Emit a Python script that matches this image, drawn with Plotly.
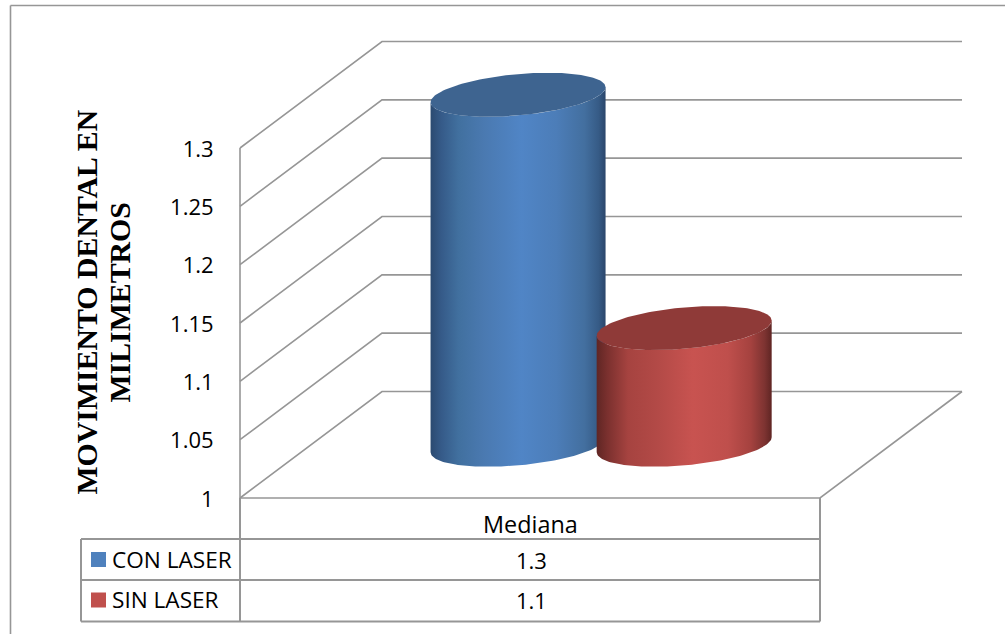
import numpy as np
import plotly.graph_objects as go

# Chart data
category = "Mediana"
series_names = ["CON LASER", "SIN LASER"]
series_values = [1.3, 1.1]
tick_values = [1, 1.05, 1.1, 1.15, 1.2, 1.25, 1.3]
tick_labels = ["1", "1.05", "1.1", "1.15", "1.2", "1.25", "1.3"]
title_lines = ["MOVIMIENTO DENTAL EN", "MILIMETROS"]

W, H = 1005, 634
GRID = "#969696"
LABEL_FONT = "Open Sans"
LABEL_SIZE = 22

# Axis scales: the front floor edge spans x 0..1, the value axis is linear.
X_PX = 580.0
Y_PX = 350.0 / 0.3
FRONT_X, FRONT_Y = 240.0, 498.0
x_range = [-FRONT_X / X_PX, (W - FRONT_X) / X_PX]
y_range = [1 - (H - FRONT_Y) / Y_PX, 1 + FRONT_Y / Y_PX]

# Oblique depth offset of the 3D box, in axis units.
DEPTH_X = 142.0 / X_PX
DEPTH_Y = 106.5 / Y_PX

# Cylinder shape in axis units.
BAR_CENTERS = [0.357, 0.6434]
BAR_RX = 87.5 / X_PX
BAR_RY = 20.7 / Y_PX
BAR_TILT = 7.5 / Y_PX

BAR_STYLES = [
    dict(
        top="#3e6490",
        stops=[(0, "#2b4a70"), (0.06, "#355a88"), (0.16, "#41709f"), (0.3, "#4a79b0"),
               (0.52, "#5085c6"), (0.72, "#4c7db8"), (0.88, "#436f9f"), (0.96, "#365b86"), (1, "#2b466b")],
    ),
    dict(
        top="#8f3a38",
        stops=[(0, "#5f2624"), (0.06, "#7a302e"), (0.18, "#a64340"), (0.35, "#b34a47"),
               (0.55, "#c85350"), (0.75, "#bf4f4c"), (0.88, "#a5423f"), (0.96, "#7d3331"), (1, "#5f2523")],
    ),
]
SWATCHES = ["#4f81bd", "#c0504d"]


def px_x(px):
    return px / W


def px_y(px):
    return 1 - px / H


def ellipse(cx, cy, t):
    return cx + BAR_RX * np.cos(t), cy + BAR_RY * np.sin(t) + BAR_TILT * np.cos(t)


fig = go.Figure()

# Walls and floor gridlines of the 3D box.
for v in tick_values:
    fig.add_trace(go.Scatter(
        x=[0, DEPTH_X, 1 + DEPTH_X],
        y=[v, v + DEPTH_Y, v + DEPTH_Y],
        mode="lines", line=dict(color=GRID, width=1.6),
        hoverinfo="skip", showlegend=False,
    ))
fig.add_trace(go.Scatter(
    x=[0, 0, None, 0, 1, 1 + DEPTH_X],
    y=[tick_values[0], tick_values[-1], None, tick_values[0], tick_values[0], tick_values[0] + DEPTH_Y],
    mode="lines", line=dict(color=GRID, width=1.6),
    hoverinfo="skip", showlegend=False,
))

# Cylinders, drawn from the series values.
for name, value, center, style in zip(series_names, series_values, BAR_CENTERS, BAR_STYLES):
    cx = center + DEPTH_X / 2
    base = tick_values[0] + DEPTH_Y / 2
    top = value + DEPTH_Y / 2
    lower = np.linspace(-np.pi, 0, 90)  # screen-lower half runs through negative sine
    bx, by = ellipse(cx, base, lower)
    tx, ty = ellipse(cx, top, lower[::-1])
    fig.add_trace(go.Scatter(
        x=np.concatenate([bx, tx]), y=np.concatenate([by, ty]),
        mode="lines", line=dict(width=0), fill="toself",
        fillgradient=dict(type="horizontal", colorscale=[list(s) for s in style["stops"]],
                          start=cx - BAR_RX, stop=cx + BAR_RX),
        name=name, showlegend=False,
    ))
    ex, ey = ellipse(cx, top, np.linspace(0, 2 * np.pi, 181))
    fig.add_trace(go.Scatter(
        x=ex, y=ey, mode="lines", line=dict(width=0), fill="toself",
        fillcolor=style["top"], name=name, showlegend=False,
    ))

shapes = []


def rule(x0, y0, x1, y1, color=GRID, width=1.6):
    shapes.append(dict(type="line", xref="paper", yref="paper",
                       x0=px_x(x0), y0=px_y(y0), x1=px_x(x1), y1=px_y(y1),
                       line=dict(color=color, width=width)))


# Outer frame, open towards the right and bottom.
rule(10.5, H, 10.5, 5.5)
rule(10.5, 5.5, W, 5.5)

# Data table grid.
rule(240, 498, 240, 621.5, width=2)
rule(820, 498, 820, 621.5, width=2)
rule(81, 539, 820, 539, width=2)
rule(81, 580, 820, 580, width=2)
rule(81, 621.5, 820, 621.5, width=2)
rule(81, 539, 81, 621.5, width=2)

annotations = []


def text(s, x, y, **kw):
    base = dict(text=s, xref="paper", yref="paper", x=px_x(x), y=px_y(y),
                showarrow=False, xanchor="center", yanchor="middle",
                font=dict(family=LABEL_FONT, size=LABEL_SIZE, color="#000000"))
    base.update(kw)
    annotations.append(base)


text(category, 530, 524, font=dict(family=LABEL_FONT, size=23.4, color="#000000"))
for i, (name, value) in enumerate(zip(series_names, series_values)):
    row_y = 559.5 + i * 40.5
    shapes.append(dict(type="rect", xref="paper", yref="paper",
                       x0=px_x(91), x1=px_x(106), y0=px_y(row_y - 7.5), y1=px_y(row_y + 7.5),
                       fillcolor=SWATCHES[i], line=dict(width=0)))
    text(name, 110, row_y - 0.5, xanchor="left",
         font=dict(family=LABEL_FONT, size=22.6, color="#000000"))
    text(str(value), 531, row_y)

# Rotated axis title, one annotation per line for tight leading.
for line, x in zip(title_lines, [86, 119]):
    text(line, x, 302.5, textangle=-90,
         font=dict(family="Liberation Serif", size=29.8, color="#000000", weight="bold"))

fig.update_layout(
    width=W, height=H, autosize=False,
    margin=dict(l=0, r=0, t=0, b=0, pad=0),
    paper_bgcolor="#ffffff", plot_bgcolor="#ffffff",
    showlegend=False,
    shapes=shapes, annotations=annotations,
    xaxis=dict(range=x_range, domain=[0, 1], visible=False, fixedrange=True),
    yaxis=dict(
        range=y_range, domain=[0, 1], anchor="free", position=FRONT_X / W,
        tickmode="array", tickvals=tick_values, ticktext=tick_labels,
        ticks="outside", ticklen=22, tickcolor="rgba(0,0,0,0)",
        ticklabelshift=1,
        showgrid=False, zeroline=False, showline=False, fixedrange=True,
        tickfont=dict(family=LABEL_FONT, size=LABEL_SIZE, color="#000000"),
    ),
)

fig.write_html("out.html", config=dict(displayModeBar=False))
